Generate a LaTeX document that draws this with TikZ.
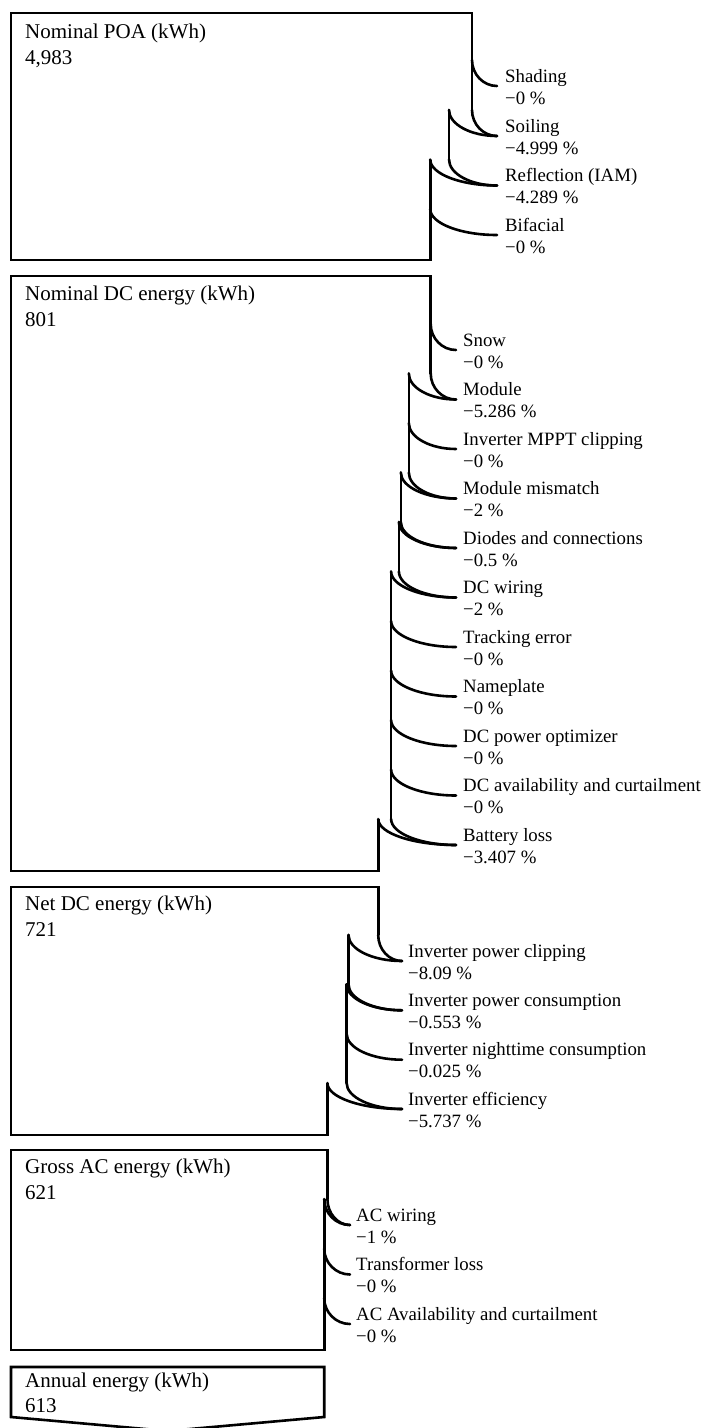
\documentclass[tikz,border=0pt]{standalone}
\usepackage{fontspec}
\setmainfont{Liberation Serif}
\usetikzlibrary{calc}
\begin{document}
\begin{tikzpicture}[x=1pt,y=-1pt,
  ln/.style={line width=2.6pt, line cap=round},
  bx/.style={line width=2.6pt, line join=miter},
  qc/.style={to path={.. controls ($(\tikztostart)!0.55!(\tikztostart|-\tikztotarget)$) and ($(\tikztotarget)!0.55!(\tikztostart|-\tikztotarget)$) .. (\tikztotarget)}},
  lab/.style={anchor=base west, inner sep=0pt, font=\fontsize{18.8}{22}\selectfont},
  ttl/.style={anchor=base west, inner sep=0pt, font=\fontsize{21}{26}\selectfont}]
\fill[white] (0,0) rectangle (701,1428);
\useasboundingbox (0,0) rectangle (701,1428);

% ---------- Group 1 ----------
\coordinate (g1tl) at (11,13);
\coordinate (g1tr) at (472,13);
\coordinate (g1bl) at (11,260);
\coordinate (g1br) at (430.2,260);
\coordinate (e1a) at (497,86);
\coordinate (e1b) at (497,136);
\coordinate (e1c) at (497,185.5);
\coordinate (e1d) at (497,235);
\coordinate (s1a) at (472,60);
\coordinate (s1b) at (472,110);
\coordinate (t1b) at (449,110);
\coordinate (s1c) at (449,159.5);
\coordinate (t1c) at (430.2,159.5);
\coordinate (s1d) at (430.2,209);
\draw[bx] (s1b) -- (g1tr) -- (g1tl) -- (g1bl) -- (g1br) -- (t1c);
\draw[ln] (t1b) -- (s1c);
\draw[ln] (s1a) to[qc] (e1a);
\draw[ln] (s1b) to[qc] (e1b);
\draw[ln] (t1b) to[qc] (e1b);
\draw[ln] (s1c) to[qc] (e1c);
\draw[ln] (t1c) to[qc] (e1c);
\draw[ln] (s1d) to[qc] (e1d);
\node[ttl] (h1) at (25,38.5) {Nominal POA (kWh)};
\node[ttl] (h1v) at (25,64) {4,983};
\node[lab] (n1a) at (505,82) {Shading};
\node[lab] (v1a) at (505,104) {−0 \%};
\node[lab] (n1b) at (505,132) {Soiling};
\node[lab] (v1b) at (505,154) {−4.999 \%};
\node[lab] (n1c) at (505,181.5) {Reflection (IAM)};
\node[lab] (v1c) at (505,203.5) {−4.289 \%};
\node[lab] (n1d) at (505,231) {Bifacial};
\node[lab] (v1d) at (505,253) {−0 \%};

% ---------- Group 2 ----------
\coordinate (g2tl) at (11,276);
\coordinate (g2tr) at (430.7,276);
\coordinate (g2bl) at (11,871);
\coordinate (g2br) at (378.2,871);
\coordinate (e2a) at (456,350);
\coordinate (e2b) at (456,399.5);
\coordinate (e2c) at (456,449);
\coordinate (e2d) at (456,498.5);
\coordinate (e2e) at (456,548);
\coordinate (e2f) at (456,597.5);
\coordinate (e2g) at (456,647);
\coordinate (e2h) at (456,696.5);
\coordinate (e2i) at (456,746);
\coordinate (e2j) at (456,795.5);
\coordinate (e2k) at (456,845);
\coordinate (s2a) at (430.7,324);
\coordinate (s2b) at (430.7,373.5);
\coordinate (t2b) at (408.8,373.5);
\coordinate (s2c) at (408.8,423);
\coordinate (s2d) at (408.8,472.5);
\coordinate (t2d) at (400.8,472.5);
\coordinate (s2e) at (400.8,522);
\coordinate (t2e) at (398.9,522);
\coordinate (s2f) at (398.9,571.5);
\coordinate (t2f) at (391.1,571.5);
\coordinate (s2g) at (391.1,621);
\coordinate (s2h) at (391.1,670.5);
\coordinate (s2i) at (391.1,720);
\coordinate (s2j) at (391.1,769.5);
\coordinate (s2k) at (391.1,819);
\coordinate (t2k) at (378.2,819);
\draw[bx] (s2b) -- (g2tr) -- (g2tl) -- (g2bl) -- (g2br) -- (t2k);
\draw[ln] (t2b) -- (s2d);
\draw[ln] (t2d) -- (s2e);
\draw[ln] (t2e) -- (s2f);
\draw[ln] (t2f) -- (s2k);
\draw[ln] (s2a) to[qc] (e2a);
\draw[ln] (s2b) to[qc] (e2b);
\draw[ln] (t2b) to[qc] (e2b);
\draw[ln] (s2c) to[qc] (e2c);
\draw[ln] (s2d) to[qc] (e2d);
\draw[ln] (t2d) to[qc] (e2d);
\draw[ln] (s2e) to[qc] (e2e);
\draw[ln] (t2e) to[qc] (e2e);
\draw[ln] (s2f) to[qc] (e2f);
\draw[ln] (t2f) to[qc] (e2f);
\draw[ln] (s2g) to[qc] (e2g);
\draw[ln] (s2h) to[qc] (e2h);
\draw[ln] (s2i) to[qc] (e2i);
\draw[ln] (s2j) to[qc] (e2j);
\draw[ln] (s2k) to[qc] (e2k);
\draw[ln] (t2k) to[qc] (e2k);
\node[ttl] (h2) at (25,300) {Nominal DC energy (kWh)};
\node[ttl] (h2v) at (25,326) {801};
\node[lab] (n2a) at (463,346) {Snow};
\node[lab] (v2a) at (463,368) {−0 \%};
\node[lab] (n2b) at (463,395.5) {Module};
\node[lab] (v2b) at (463,417.5) {−5.286 \%};
\node[lab] (n2c) at (463,445) {Inverter MPPT clipping};
\node[lab] (v2c) at (463,467) {−0 \%};
\node[lab] (n2d) at (463,494.5) {Module mismatch};
\node[lab] (v2d) at (463,516.5) {−2 \%};
\node[lab] (n2e) at (463,544) {Diodes and connections};
\node[lab] (v2e) at (463,566) {−0.5 \%};
\node[lab] (n2f) at (463,593.5) {DC wiring};
\node[lab] (v2f) at (463,615.5) {−2 \%};
\node[lab] (n2g) at (463,643) {Tracking error};
\node[lab] (v2g) at (463,665) {−0 \%};
\node[lab] (n2h) at (463,692.5) {Nameplate};
\node[lab] (v2h) at (463,714.5) {−0 \%};
\node[lab] (n2i) at (463,742) {DC power optimizer};
\node[lab] (v2i) at (463,764) {−0 \%};
\node[lab] (n2j) at (463,791.5) {DC availability and curtailment};
\node[lab] (v2j) at (463,813.5) {−0 \%};
\node[lab] (n2k) at (463,841) {Battery loss};
\node[lab] (v2k) at (463,863) {−3.407 \%};

% ---------- Group 3 ----------
\coordinate (g3tl) at (11,887);
\coordinate (g3tr) at (378.2,887);
\coordinate (g3bl) at (11,1135);
\coordinate (g3br) at (327.4,1135);
\coordinate (e3a) at (402,961);
\coordinate (e3b) at (402,1010.3);
\coordinate (e3c) at (402,1059.7);
\coordinate (e3d) at (402,1109);
\coordinate (s3a) at (378.2,935);
\coordinate (t3a) at (348.5,935);
\coordinate (s3b) at (348.5,984.3);
\coordinate (t3b) at (346.6,984.3);
\coordinate (s3c) at (346.6,1033.7);
\coordinate (s3d) at (346.6,1083);
\coordinate (t3d) at (327.4,1083);
\draw[bx] (s3a) -- (g3tr) -- (g3tl) -- (g3bl) -- (g3br) -- (t3d);
\draw[ln] (t3a) -- (s3b);
\draw[ln] (t3b) -- (s3d);
\draw[ln] (s3a) to[qc] (e3a);
\draw[ln] (t3a) to[qc] (e3a);
\draw[ln] (s3b) to[qc] (e3b);
\draw[ln] (t3b) to[qc] (e3b);
\draw[ln] (s3c) to[qc] (e3c);
\draw[ln] (s3d) to[qc] (e3d);
\draw[ln] (t3d) to[qc] (e3d);
\node[ttl] (h3) at (25,910) {Net DC energy (kWh)};
\node[ttl] (h3v) at (25,936) {721};
\node[lab] (n3a) at (408,957) {Inverter power clipping};
\node[lab] (v3a) at (408,979) {−8.09 \%};
\node[lab] (n3b) at (408,1006.3) {Inverter power consumption};
\node[lab] (v3b) at (408,1028.3) {−0.553 \%};
\node[lab] (n3c) at (408,1055.7) {Inverter nighttime consumption};
\node[lab] (v3c) at (408,1077.7) {−0.025 \%};
\node[lab] (n3d) at (408,1105) {Inverter efficiency};
\node[lab] (v3d) at (408,1127) {−5.737 \%};

% ---------- Group 4 ----------
\coordinate (g4tl) at (11,1150);
\coordinate (g4tr) at (327.4,1150);
\coordinate (g4bl) at (11,1350);
\coordinate (g4br) at (324.2,1350);
\coordinate (e4a) at (350,1225);
\coordinate (e4b) at (350,1274.5);
\coordinate (e4c) at (350,1324);
\coordinate (s4a) at (327.4,1199);
\coordinate (t4a) at (324.2,1199);
\coordinate (s4b) at (324.2,1248.5);
\coordinate (s4c) at (324.2,1298);
\draw[bx] (s4a) -- (g4tr) -- (g4tl) -- (g4bl) -- (g4br) -- (t4a);
\draw[ln] (s4a) to[qc] (e4a);
\draw[ln] (t4a) to[qc] (e4a);
\draw[ln] (s4b) to[qc] (e4b);
\draw[ln] (s4c) to[qc] (e4c);
\node[ttl] (h4) at (25,1173) {Gross AC energy (kWh)};
\node[ttl] (h4v) at (25,1199) {621};
\node[lab] (n4a) at (356,1221) {AC wiring};
\node[lab] (v4a) at (356,1243) {−1 \%};
\node[lab] (n4b) at (356,1270.5) {Transformer loss};
\node[lab] (v4b) at (356,1292.5) {−0 \%};
\node[lab] (n4c) at (356,1320) {AC Availability and curtailment};
\node[lab] (v4c) at (356,1342) {−0 \%};

% ---------- Group 5 ----------
\coordinate (g5tl) at (11,1367);
\coordinate (g5tr) at (324.2,1367);
\coordinate (g5bl) at (11,1417);
\coordinate (g5br) at (324.2,1417);
\coordinate (g5tip) at (167.6,1431);
\draw[bx] (g5bl) -- (g5tl) -- (g5tr) -- (g5br) -- (g5tip) -- cycle;
\node[ttl] (h5) at (25,1387) {Annual energy (kWh)};
\node[ttl] (h5v) at (25,1412) {613};
\end{tikzpicture}
\end{document}
